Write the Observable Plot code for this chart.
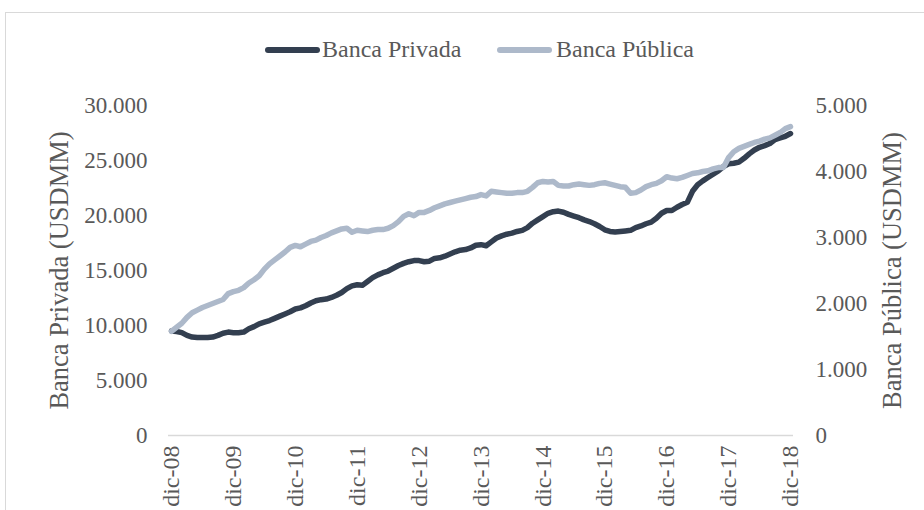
<!DOCTYPE html>
<html><head><meta charset="utf-8">
<script src="https://cdn.jsdelivr.net/npm/d3@7"></script>
<script src="https://cdn.jsdelivr.net/npm/@observablehq/plot@0.6"></script>
<style>
body{margin:0;background:#fff;}
#wrap{position:relative;width:924px;height:510px;overflow:hidden;font-family:"Liberation Serif","Times New Roman",serif;color:#595959;}
#frame{position:absolute;left:5px;top:12px;width:960px;height:560px;border:1.5px solid #d9d9d9;box-sizing:border-box;}
.sw{position:absolute;height:6px;width:55px;border-radius:3px;top:47px;}
.lt{position:absolute;font-size:24px;top:35px;line-height:28px;white-space:nowrap;}
#chart{position:absolute;left:0;top:0;}
</style></head><body>
<div id="wrap"><div id="frame"></div>
<div class="sw" style="left:265px;background:#333f50"></div><div class="lt" style="left:322px">Banca Privada</div>
<div class="sw" style="left:497px;background:#adb9ca"></div><div class="lt" style="left:556px">Banca Pública</div>
<div id="chart"></div></div>
<script>
// month index 0 = dic-08 ... 120 = dic-18
const tickMonths = [0,12,24,36,48,60,72,84,96,108,120];
const tickLabels = ["dic-08","dic-09","dic-10","dic-11","dic-12","dic-13","dic-14","dic-15","dic-16","dic-17","dic-18"];
const leftTicks = [0,5000,10000,15000,20000,25000,30000];
const rightTicks = [0,1000,2000,3000,4000,5000];
const privada = [
9500,9450,9350,9100,8950,8900,8900,8900,8950,9100,9300,9400,
9350,9350,9400,9700,9900,10150,10300,10450,10650,10850,11050,11250,
11500,11600,11800,12050,12250,12350,12400,12550,12750,13000,13350,13600,
13700,13650,14000,14350,14600,14800,14950,15200,15450,15650,15800,15900,
15900,15800,15850,16100,16150,16300,16500,16700,16850,16900,17050,17300,
17350,17250,17600,17950,18150,18300,18400,18550,18650,18900,19300,19600,
19900,20200,20350,20400,20300,20100,19950,19800,19600,19450,19250,19000,
18700,18550,18500,18550,18600,18650,18900,19050,19250,19400,19750,20200,
20450,20450,20750,21000,21200,22200,22800,23150,23450,23750,24050,24450,
24700,24750,24850,25200,25600,25950,26200,26350,26550,26900,27050,27200,
27450];
const publica = [
1580,1640,1700,1790,1860,1900,1940,1970,2000,2030,2060,2150,
2180,2200,2240,2310,2360,2420,2520,2600,2660,2720,2780,2850,
2880,2860,2900,2940,2960,3000,3030,3070,3100,3130,3140,3080,
3110,3100,3090,3110,3120,3120,3140,3180,3240,3320,3360,3330,
3380,3380,3410,3450,3480,3510,3530,3550,3570,3590,3610,3620,
3650,3630,3700,3690,3680,3670,3670,3680,3680,3700,3760,3830,
3850,3840,3850,3790,3780,3780,3800,3810,3800,3790,3800,3820,
3830,3810,3790,3770,3760,3670,3680,3720,3770,3800,3820,3860,
3920,3900,3890,3910,3940,3970,3980,4000,4010,4040,4060,4060,
4210,4300,4350,4380,4410,4440,4460,4490,4510,4550,4590,4650,
4680];

const fmt = d3.formatLocale({decimal:",", thousands:".", grouping:[3], currency:["",""]}).format(",");
const ratio = 30000 / 5000;
const data = privada.map((v, i) => ({m: i, priv: v, pub: publica[i]}));
const font = '"Liberation Serif","Times New Roman",serif';

const chart = Plot.plot({
  width: 924, height: 510,
  marginLeft: 168, marginRight: 131, marginTop: 105, marginBottom: 75,
  style: {fontFamily: font, fontSize: "24px", color: "#595959", background: "transparent", overflow: "visible"},
  x: {domain: [0, 120], insetLeft: 3, insetRight: 3},
  y: {domain: [0, 30000]},
  marks: [
    Plot.ruleY([0], {stroke: "#d9d9d9", strokeWidth: 1.5}),
    Plot.axisY(leftTicks, {anchor: "left", tickSize: 0, tickPadding: 21, tickFormat: fmt, label: null, fontSize: 23}),
    Plot.axisY(rightTicks.map(d => d * ratio), {anchor: "right", tickSize: 0, tickPadding: 22, tickFormat: d => fmt(d / ratio), label: null, fontSize: 23}),
    Plot.axisX(tickMonths, {anchor: "bottom", tickSize: 0, tickPadding: 10, tickRotate: -90, tickFormat: d => tickLabels[tickMonths.indexOf(d)], label: null, fontSize: 24}),
    Plot.text(["Banca Privada (USDMM)"], {frameAnchor: "left", dx: -109, rotate: -90, fontSize: 26.5, fill: "#595959", textAnchor: "middle"}),
    Plot.text(["Banca Pública (USDMM)"], {frameAnchor: "right", dx: 99, rotate: -90, fontSize: 26.5, fill: "#595959", textAnchor: "middle"}),
    Plot.line(data, {x: "m", y: "priv", stroke: "#333f50", strokeWidth: 5.5, strokeLinecap: "round", strokeLinejoin: "round"}),
    Plot.line(data, {x: "m", y: d => d.pub * ratio, stroke: "#adb9ca", strokeWidth: 5.5, strokeLinecap: "round", strokeLinejoin: "round"})
  ]
});
document.getElementById("chart").appendChild(chart);
</script>
</body></html>
